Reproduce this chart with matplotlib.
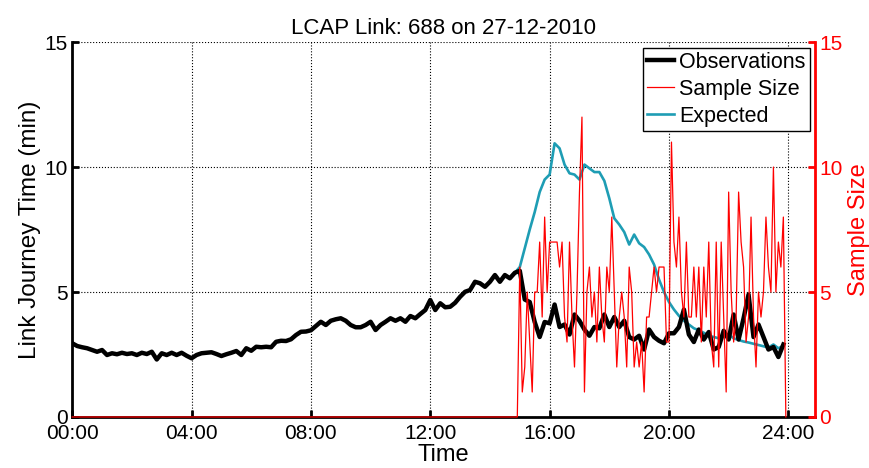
import numpy as np
import matplotlib
matplotlib.use('Agg')
import matplotlib.pyplot as plt

plt.rcParams['font.family'] = ['Liberation Sans', 'DejaVu Sans']

# observed journey time (min), every 10 minutes from 00:00 to 23:50
obs_min = [
    2.95, 2.84, 2.79, 2.75, 2.68, 2.61,  # 00
    2.68, 2.48, 2.55, 2.51, 2.57, 2.52,  # 01
    2.55, 2.48, 2.57, 2.52, 2.61, 2.30,  # 02
    2.55, 2.48, 2.57, 2.48, 2.57, 2.45,  # 03
    2.35, 2.48, 2.55, 2.57, 2.59, 2.52,  # 04
    2.44, 2.51, 2.57, 2.64, 2.48, 2.75,  # 05
    2.65, 2.81, 2.79, 2.81, 2.79, 3.01,  # 06
    3.05, 3.04, 3.11, 3.28, 3.41, 3.42,  # 07
    3.47, 3.64, 3.81, 3.68, 3.85, 3.91,  # 08
    3.95, 3.85, 3.68, 3.59, 3.59, 3.68,  # 09
    3.81, 3.48, 3.68, 3.81, 3.95, 3.85,  # 10
    3.95, 3.81, 4.04, 3.95, 4.12, 4.28,  # 11
    4.68, 4.28, 4.55, 4.39, 4.41, 4.57,  # 12
    4.81, 5.01, 5.08, 5.41, 5.35, 5.21,  # 13
    5.41, 5.68, 5.41, 5.68, 5.55, 5.77,  # 14
    5.85, 4.70, 4.60, 3.80, 3.20, 3.80,  # 15
    3.75, 4.50, 3.60, 3.70, 3.30, 4.10,  # 16
    3.85, 3.50, 3.25, 3.60, 3.55, 4.10,  # 17
    3.60, 4.00, 3.60, 3.85, 3.20, 3.10,  # 18
    3.25, 2.70, 3.50, 3.20, 3.05, 2.95,  # 19
    3.35, 3.35, 3.60, 4.30, 3.30, 3.00,  # 20
    3.50, 3.10, 3.40, 2.70, 2.80, 3.45,  # 21
    3.10, 4.10, 3.10, 3.95, 4.90, 3.20,  # 22
    3.70, 3.20, 2.70, 2.80, 2.40, 2.90,  # 23
]
obs_hours = np.arange(len(obs_min)) / 6

# expected journey time (min), every 10 minutes from 14:50 to 23:50
exp_min = [
    5.77,
    6.00, 6.75, 7.50, 8.20, 9.00, 9.50,
    9.70, 10.95, 10.75, 10.10, 9.75, 9.70,
    9.50, 10.10, 9.95, 9.80, 9.80, 9.45,
    8.75, 7.95, 7.70, 7.40, 6.90, 7.30,
    6.95, 6.80, 6.50, 6.10, 5.50, 5.00,
    4.60, 4.30, 4.05, 3.85, 3.70, 3.55,
    3.47, 3.37, 3.25, 3.20, 3.15, 3.25,
    3.30, 3.15, 3.08, 3.02, 2.98, 2.93,
    2.88, 2.83, 2.78, 2.90, 2.75, 2.85,
]
exp_hours = 14 + 50 / 60 + np.arange(len(exp_min)) / 6

# probe-vehicle sample size, every 5 minutes from 15:00 to 23:50
sample_active = [
    6, 1, 2, 5, 3, 1, 5, 5, 7, 4, 8, 5,
    7, 7, 7, 7, 6, 7, 4, 3, 7, 4, 2, 5,
    9, 12, 1, 5, 6, 4, 5, 3, 6, 4, 3, 6,
    5, 8, 5, 2, 4, 5, 4, 2, 6, 5, 2, 3,
    2, 3, 1, 4, 4, 5, 6, 5, 6, 6, 6, 3,
    3, 11, 7, 6, 8, 5, 4, 7, 4, 4, 6, 4,
    6, 3, 6, 4, 7, 3, 2, 7, 2, 7, 4, 1,
    9, 5, 3, 4, 9, 7, 6, 3, 4, 8, 4, 2,
    5, 4, 5, 8, 6, 5, 10, 5, 7, 6, 8,
]
# no samples before 14:55 and at 23:55
sample_size = [0] * 180 + sample_active + [0]
sample_hours = np.arange(len(sample_size)) * 5 / 60

tick_hours = [0, 4, 8, 12, 16, 20, 24]
tick_labels = ['00:00', '04:00', '08:00', '12:00', '16:00', '20:00', '24:00']

fig = plt.figure(figsize=(8.7, 4.68), dpi=100)
ax = fig.add_axes([0.083, 0.109, 0.854, 0.801])
ax2 = ax.twinx()

l_obs, = ax.plot(obs_hours, obs_min, color='black', lw=3.2, label='Observations', zorder=3)
l_exp, = ax.plot(exp_hours, exp_min, color='#1e9db4', lw=1.9, label='Expected', zorder=2)
l_ss, = ax2.plot(sample_hours, sample_size, color='red', lw=0.9, label='Sample Size', clip_on=False)

ax.set_xlim(0, 24.9)
ax.set_ylim(0, 15)
ax2.set_ylim(0, 15)
ax.set_xticks(tick_hours)
ax.set_xticklabels(tick_labels)
ax.set_yticks([0, 5, 10, 15])
ax2.set_yticks([0, 5, 10, 15])
ax.grid(True, linestyle=':', color='black', lw=0.8)

for s in ['top', 'right']:
    ax.spines[s].set_visible(False)
for s in ['top', 'left', 'bottom']:
    ax2.spines[s].set_visible(False)
ax.spines['left'].set_linewidth(2)
ax.spines['bottom'].set_linewidth(2)
ax2.spines['right'].set_linewidth(2)
ax2.spines['right'].set_color('red')

ax.tick_params(axis='x', direction='in', length=5, width=2, labelsize=15, pad=5)
ax.tick_params(axis='y', direction='in', length=5, width=2, labelsize=15, pad=3)
ax2.tick_params(direction='in', length=5, width=2, labelsize=15, colors='red', pad=3)

ax.set_xlabel('Time', fontsize=17, labelpad=1)
ax.set_ylabel('Link Journey Time (min)', fontsize=17.5, labelpad=3)
ax2.set_ylabel('Sample Size', fontsize=17, color='red', labelpad=4)
ax.set_title('LCAP Link: 688 on 27-12-2010', fontsize=16, pad=6)

leg = ax2.legend([l_obs, l_ss, l_exp], ['Observations', 'Sample Size', 'Expected'],
                 loc='upper right', fontsize=15.5, frameon=True, fancybox=False,
                 edgecolor='black', framealpha=1, handlelength=1.25, handletextpad=0.25,
                 borderpad=0.2, labelspacing=0.28, borderaxespad=0.25)
leg.get_frame().set_linewidth(1.0)

fig.savefig('out.png', dpi=100)
